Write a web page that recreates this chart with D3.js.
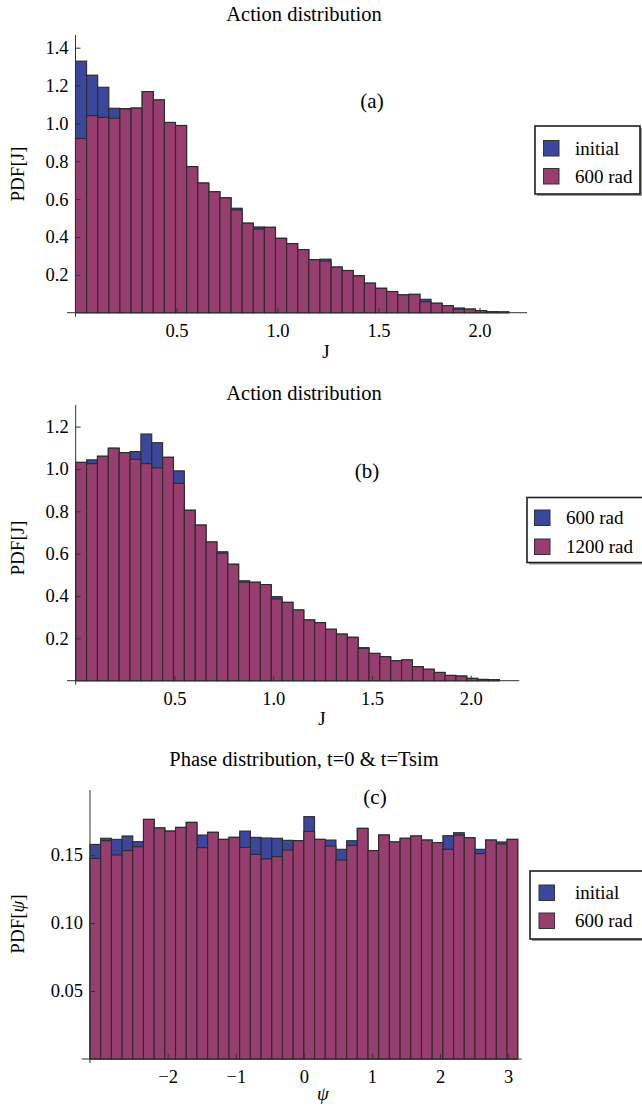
<!DOCTYPE html>
<html>
<head>
<meta charset="utf-8">
<script src="https://cdn.jsdelivr.net/npm/d3@7"></script>
<style>
  body { margin: 0; background: #fff; }
  svg { display: block; }
  text { font-family: "Liberation Serif", "Times New Roman", serif; fill: #000; }
</style>
</head>
<body>
<svg id="fig" width="642" height="1108"></svg>
<script>
// ---- Action histograms: 39 bins of width 0.055 starting at J = 0 ----
const jBinWidth = 0.055;

const actionInitial = [1.329, 1.255, 1.191, 1.080, 1.078, 1.081, 1.168, 1.124, 1.005, 0.989,
  0.772, 0.685, 0.639, 0.607, 0.552, 0.473, 0.453, 0.451, 0.393, 0.365,
  0.333, 0.280, 0.283, 0.241, 0.223, 0.195, 0.156, 0.129, 0.112, 0.094,
  0.097, 0.071, 0.050, 0.037, 0.025, 0.019, 0.011, 0.005, 0.004];
const action600 = [0.920, 1.041, 1.032, 1.027, 1.076, 1.081, 1.168, 1.124, 1.005, 0.989,
  0.772, 0.685, 0.639, 0.607, 0.543, 0.473, 0.442, 0.451, 0.393, 0.365,
  0.333, 0.280, 0.273, 0.241, 0.223, 0.195, 0.156, 0.129, 0.112, 0.094,
  0.097, 0.058, 0.050, 0.037, 0.019, 0.019, 0.011, 0.005, 0.004];

const actionB600 = [1.031, 1.043, 1.060, 1.098, 1.077, 1.082, 1.165, 1.124, 1.055, 0.991,
  0.805, 0.735, 0.655, 0.609, 0.550, 0.472, 0.465, 0.454, 0.397, 0.370,
  0.334, 0.287, 0.274, 0.243, 0.220, 0.205, 0.156, 0.129, 0.113, 0.094,
  0.098, 0.066, 0.054, 0.039, 0.025, 0.022, 0.011, 0.006, 0.005];
const actionB1200 = [1.031, 1.025, 1.060, 1.098, 1.077, 1.046, 1.025, 1.005, 1.055, 0.932,
  0.805, 0.735, 0.655, 0.602, 0.550, 0.465, 0.465, 0.454, 0.386, 0.370,
  0.334, 0.287, 0.274, 0.243, 0.220, 0.205, 0.153, 0.129, 0.113, 0.094,
  0.098, 0.066, 0.054, 0.039, 0.025, 0.022, 0.011, 0.006, 0.005];

// ---- Phase histograms: 40 bins spanning [-pi, pi] ----
const psiStart = -Math.PI;
const psiBinWidth = 2 * Math.PI / 40;

const phaseInitial = [0.1578, 0.1623, 0.1615, 0.1640, 0.1598, 0.1762, 0.1699, 0.1676, 0.1703, 0.1740,
  0.1647, 0.1667, 0.1615, 0.1630, 0.1676, 0.1630, 0.1625, 0.1623, 0.1608, 0.1605,
  0.1782, 0.1615, 0.1610, 0.1542, 0.1605, 0.1696, 0.1532, 0.1647, 0.1596, 0.1623,
  0.1640, 0.1610, 0.1591, 0.1642, 0.1664, 0.1627, 0.1542, 0.1610, 0.1596, 0.1615];
const phase600 = [0.1475, 0.1605, 0.1500, 0.1532, 0.1561, 0.1762, 0.1699, 0.1676, 0.1703, 0.1740,
  0.1554, 0.1667, 0.1615, 0.1630, 0.1556, 0.1505, 0.1471, 0.1488, 0.1537, 0.1605,
  0.1674, 0.1615, 0.1566, 0.1463, 0.1571, 0.1696, 0.1532, 0.1647, 0.1596, 0.1623,
  0.1640, 0.1610, 0.1591, 0.1542, 0.1647, 0.1627, 0.1510, 0.1610, 0.1581, 0.1615];

// ---- Tick labels ----
const jTicks = [0.5, 1.0, 1.5, 2.0];
const jTickLabels = ["0.5", "1.0", "1.5", "2.0"];
const pdfTicksA = [0.2, 0.4, 0.6, 0.8, 1.0, 1.2, 1.4];
const pdfTicksB = [0.2, 0.4, 0.6, 0.8, 1.0, 1.2];
const pdfTickLabels = ["0.2", "0.4", "0.6", "0.8", "1.0", "1.2", "1.4"];
const psiTicks = [-2, -1, 0, 1, 2, 3];
const psiTickLabels = ["\u22122", "\u22121", "0", "1", "2", "3"];
const phaseTicks = [0.05, 0.10, 0.15];
const phaseTickLabels = ["0.05", "0.10", "0.15"];

const colorBack = "#3b479b";
const colorFront = "#973d6f";
const edgeColor = "#2b2b2b";

const svg = d3.select("#fig");

function drawPanel(p) {
  const g = svg.append("g");
  const x = d3.scaleLinear().domain(p.xDomain).range(p.xRange);
  const y = d3.scaleLinear().domain(p.yDomain).range(p.yRange);

  // histogram bars: earlier series underneath, later series on top
  [[p.back, colorBack], [p.front, colorFront]].forEach(([vals, col]) => {
    g.append("g").selectAll("rect").data(vals).join("rect")
      .attr("x", (d, i) => x(p.binStart + i * p.binWidth))
      .attr("width", (d, i) => x(p.binStart + (i + 1) * p.binWidth) - x(p.binStart + i * p.binWidth))
      .attr("y", d => y(d))
      .attr("height", d => y(0) - y(d))
      .attr("fill", col)
      .attr("stroke", edgeColor)
      .attr("stroke-width", 1.1);
  });

  // axes lines
  const x0 = x(p.xAxisAt), y0 = y(0);
  g.append("line").attr("x1", p.xAxisStart).attr("x2", p.xRange[1]).attr("y1", y0).attr("y2", y0)
    .attr("stroke", "#333").attr("stroke-width", 1);
  g.append("line").attr("x1", x0).attr("x2", x0).attr("y1", p.yRange[1]).attr("y2", y0 + 4)
    .attr("stroke", "#333").attr("stroke-width", 1);

  // x-axis ticks (pointing inward) and labels
  const xAxis = g.append("g").attr("transform", `translate(0,${y0})`);
  xAxis.call(d3.axisBottom(x).tickValues(p.xMinor).tickSize(-2.5).tickFormat(""));
  xAxis.call(d3.axisBottom(x).tickValues(p.xTicks).tickSize(-5).tickPadding(11)
    .tickFormat((d, i) => p.xTickLabels[i]));
  xAxis.selectAll(".domain").remove();
  xAxis.selectAll("line").attr("stroke", "#333");
  xAxis.selectAll("text").style("font-size", "18.5px");

  const yAxis = g.append("g").attr("transform", `translate(${x0},0)`);
  yAxis.call(d3.axisLeft(y).tickValues(p.yMinor).tickSize(-2.5).tickFormat(""));
  yAxis.call(d3.axisLeft(y).tickValues(p.yTicks).tickSize(-5).tickPadding(7)
    .tickFormat((d, i) => p.yTickLabels[i]));
  yAxis.selectAll(".domain").remove();
  yAxis.selectAll("line").attr("stroke", "#333");
  yAxis.selectAll("text").style("font-size", "18.5px");

  // title, panel tag, axis labels
  g.append("text").attr("x", 304).attr("y", p.titleY).attr("text-anchor", "middle")
    .style("font-size", "20.5px").text(p.title);
  g.append("text").attr("x", p.tagX).attr("y", p.tagY).attr("text-anchor", "middle")
    .style("font-size", "21px").text(p.tag);

  const xl = g.append("text").attr("x", p.xLabelX).attr("y", p.xLabelY).attr("text-anchor", "middle")
    .style("font-size", "19px");
  xl.append("tspan").style("font-style", p.italicVar ? "italic" : "normal").text(p.varName);

  const yl = g.append("text").attr("transform", `translate(${p.yLabelX},${p.yLabelY}) rotate(-90)`)
    .attr("text-anchor", "middle").style("font-size", "19px");
  yl.append("tspan").text("PDF[");
  yl.append("tspan").style("font-style", p.italicVar ? "italic" : "normal").text(p.varName);
  yl.append("tspan").text("]");

  // legend box with shadow
  const L = p.legend;
  const lg = g.append("g");
  lg.append("rect").attr("x", L.x + 2).attr("y", L.y + 2).attr("width", L.w).attr("height", L.h)
    .attr("fill", "#9a9a9a");
  lg.append("rect").attr("x", L.x).attr("y", L.y).attr("width", L.w).attr("height", L.h)
    .attr("fill", "#fff").attr("stroke", "#1e1e1e").attr("stroke-width", 1.6);
  L.labels.forEach((lab, i) => {
    const yy = L.y + L.first + i * L.step;
    lg.append("rect").attr("x", L.sx).attr("y", yy - 8).attr("width", 15.5).attr("height", 15.5)
      .attr("fill", i === 0 ? colorBack : colorFront).attr("stroke", "#333").attr("stroke-width", 1);
    lg.append("text").attr("x", L.tx).attr("y", yy + 6).style("font-size", "19px").text(lab);
  });
}

// minor tick positions along each axis
const jMinorA = d3.range(1, 23).map(k => k / 10);
const pdfMinorA = d3.range(1, 30).map(k => k * 0.05);
const pdfMinorB = d3.range(1, 27).map(k => k * 0.05);
const psiMinor = d3.range(-15, 16).map(k => k * 0.2);
const phaseMinor = d3.range(1, 20).map(k => k * 0.01);

drawPanel({
  back: actionInitial, front: action600,
  binStart: 0, binWidth: jBinWidth,
  xDomain: [0, 2.235], xRange: [75.5, 527], xAxisAt: 0, xAxisStart: 67,
  yDomain: [0, 1.467], yRange: [312.7, 35],
  xTicks: jTicks, xTickLabels: jTickLabels, xMinor: jMinorA,
  yTicks: pdfTicksA, yTickLabels: pdfTickLabels, yMinor: pdfMinorA,
  title: "Action distribution", titleY: 21,
  tag: "(a)", tagX: 372, tagY: 107.5,
  varName: "J", italicVar: false, xLabelX: 326, xLabelY: 358,
  yLabelX: 24, yLabelY: 174,
  legend: { x: 535, y: 126, w: 105, h: 68, sx: 543.5, tx: 575, first: 22.5, step: 28,
            labels: ["initial", "600 rad"] }
});

drawPanel({
  back: actionB600, front: actionB1200,
  binStart: 0, binWidth: jBinWidth,
  xDomain: [0, 2.246], xRange: [75.7, 519.3], xAxisAt: 0, xAxisStart: 67,
  yDomain: [0, 1.302], yRange: [680.7, 405],
  xTicks: jTicks, xTickLabels: jTickLabels, xMinor: jMinorA,
  yTicks: pdfTicksB, yTickLabels: pdfTickLabels, yMinor: pdfMinorB,
  title: "Action distribution", titleY: 400,
  tag: "(b)", tagX: 367, tagY: 477.5,
  varName: "J", italicVar: false, xLabelX: 322, xLabelY: 725,
  yLabelX: 24, yLabelY: 548,
  legend: { x: 527, y: 497.5, w: 118, h: 65, sx: 534.5, tx: 566, first: 20.5, step: 29,
            labels: ["600 rad", "1200 rad"] }
});

drawPanel({
  back: phaseInitial, front: phase600,
  binStart: psiStart, binWidth: psiBinWidth,
  xDomain: [-Math.PI, 3.2], xRange: [90, 521.7], xAxisAt: -Math.PI, xAxisStart: 81.7,
  yDomain: [0, 0.1978], yRange: [1059, 790],
  xTicks: psiTicks, xTickLabels: psiTickLabels, xMinor: psiMinor,
  yTicks: phaseTicks, yTickLabels: phaseTickLabels, yMinor: phaseMinor,
  title: "Phase distribution, t=0 & t=Tsim", titleY: 766,
  tag: "(c)", tagX: 375, tagY: 804,
  varName: "\u03c8", italicVar: true, xLabelX: 323, xLabelY: 1100,
  yLabelX: 24, yLabelY: 924,
  legend: { x: 530, y: 871, w: 115, h: 68, sx: 539, tx: 575, first: 22, step: 28,
            labels: ["initial", "600 rad"] }
});
</script>
</body>
</html>
